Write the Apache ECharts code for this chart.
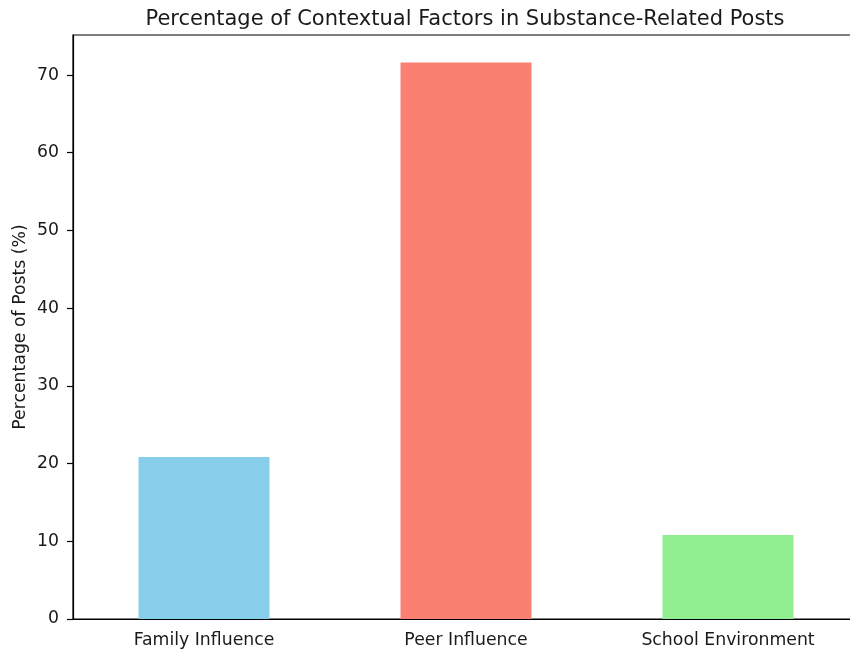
<!DOCTYPE html>
<html>
<head>
<meta charset="utf-8">
<script src="https://cdn.jsdelivr.net/npm/echarts@6/dist/echarts.min.js"></script>
<style>html,body{margin:0;padding:0;background:#fff;overflow:hidden;}#c{width:880px;height:651px;}</style>
</head>
<body>
<div id="c"></div>
<script>
const categories = ['Family Influence', 'Peer Influence', 'School Environment'];
const values = [20.85, 71.6, 10.8];
const barColors = ['#87CEEB', '#FA8072', '#90EE90'];
const yTicks = [0, 10, 20, 30, 40, 50, 60, 70];
const yMax = 75.15;

const chart = echarts.init(document.getElementById('c'), null, {renderer: 'canvas'});
const font = '"DejaVu Sans", sans-serif';
chart.setOption({
  animation: false,
  backgroundColor: '#fff',
  title: {
    text: 'Percentage of Contextual Factors in Substance-Related Posts',
    left: 460, top: 4, textAlign: 'center',
    textStyle: {fontFamily: font, fontSize: 21, fontWeight: 'normal', color: '#1a1a1a'}
  },
  grid: {left: 73, top: 35, bottom: 32, width: 786, show: true, borderColor: '#000', borderWidth: 1.2, backgroundColor: 'transparent'},
  xAxis: {
    type: 'category', data: categories,
    axisLine: {lineStyle: {color: '#000', width: 1.2}},
    axisTick: {alignWithLabel: true, length: 6, lineStyle: {color: '#000', width: 1.2}},
    axisLabel: {margin: 13, fontFamily: font, fontSize: 17.3, color: '#1a1a1a'}
  },
  yAxis: {
    type: 'value', min: 0, max: yMax, interval: 10,
    name: 'Percentage of Posts (%)', nameLocation: 'middle', nameGap: 44, nameMoveOverlap: false,
    nameTextStyle: {fontFamily: font, fontSize: 17.3, color: '#1a1a1a'},
    splitLine: {show: false},
    axisLine: {show: true, lineStyle: {color: '#000', width: 1.2}},
    axisTick: {show: true, length: 6, customValues: yTicks, lineStyle: {color: '#000', width: 1.2}},
    axisLabel: {margin: 14, fontFamily: font, fontSize: 17.3, color: '#1a1a1a', customValues: yTicks}
  },
  series: [{
    type: 'bar', barWidth: '50%',
    data: values.map((v, i) => ({value: v, itemStyle: {color: barColors[i]}}))
  }]
});
</script>
</body>
</html>
